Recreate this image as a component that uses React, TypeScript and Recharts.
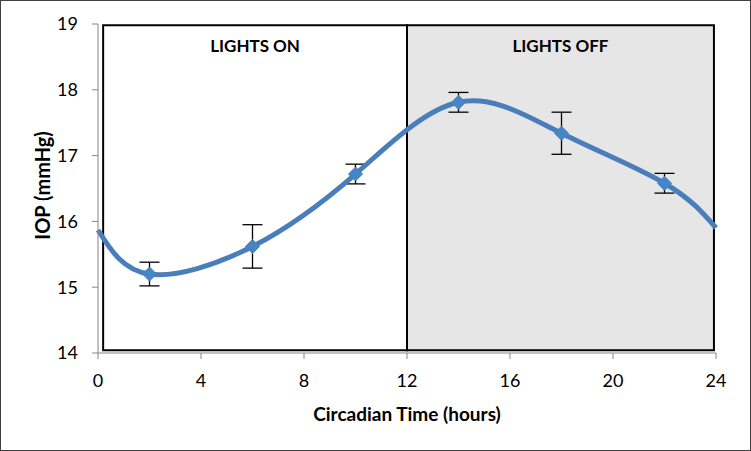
import { LineChart, Line, XAxis, YAxis, ReferenceArea, ErrorBar } from "recharts";

const hours = [0, 2, 6, 10, 14, 18, 22, 24];
const iop = [15.87, 15.2, 15.62, 16.72, 17.81, 17.34, 16.58, 15.9];
const sem = [null, 0.18, 0.33, 0.15, 0.15, 0.32, 0.15, null];
const xTicks = [0, 4, 8, 12, 16, 20, 24];
const yTicks = [14, 15, 16, 17, 18, 19];
const lightsOn = [0.2, 12];
const lightsOff = [12, 23.92];
const frameY = [14.04, 18.98];

const data = hours.map((h, i) => ({ hour: h, iop: iop[i], err: sem[i] }));

const FONT = "Lato, 'Open Sans', sans-serif";

function Diamond(props: any) {
  const { cx, cy, payload, index } = props;
  if (payload == null || payload.err == null) return <g key={`d${index}`} />;
  const r = 7;
  return (
    <polygon
      key={`d${index}`}
      points={`${cx},${cy - r} ${cx + r},${cy} ${cx},${cy + r} ${cx - r},${cy}`}
      fill="#4586c8"
      stroke="#4a7ebb"
      strokeWidth={1}
    />
  );
}

export default function App() {
  return (
    <div
      style={{
        position: "absolute",
        left: 0,
        top: 0,
        width: 751,
        height: 451,
        boxSizing: "border-box",
        border: "1px solid #404040",
        background: "#fff",
      }}
    >
      <div style={{ position: "absolute", left: -1, top: -1 }}>
        <LineChart width={751} height={451} data={data} margin={{ top: 24, right: 35, bottom: 0, left: 0 }}>
          <ReferenceArea
            x1={lightsOn[0]}
            x2={lightsOn[1]}
            y1={frameY[0]}
            y2={frameY[1]}
            fill="#ffffff"
            fillOpacity={1}
            stroke="#000"
            strokeWidth={2}
            label={{ value: "LIGHTS ON", position: "insideTop", offset: 15, fill: "#000", fontSize: 17, fontWeight: 700, fontFamily: FONT }}
          />
          <ReferenceArea
            x1={lightsOff[0]}
            x2={lightsOff[1]}
            y1={frameY[0]}
            y2={frameY[1]}
            fill="#e6e6e6"
            fillOpacity={1}
            stroke="#000"
            strokeWidth={2}
            label={{ value: "LIGHTS OFF", position: "insideTop", offset: 15, fill: "#000", fontSize: 17, fontWeight: 700, fontFamily: FONT }}
          />
          <XAxis
            dataKey="hour"
            type="number"
            domain={[0, 24]}
            ticks={xTicks}
            height={98}
            stroke="#868686"
            tickSize={6}
            tick={{ fontSize: 18, fill: "#000", fontFamily: FONT }}
            tickMargin={15}
            label={{ value: "Circadian Time (hours)", position: "insideBottom", offset: 30, fill: "#000", fontSize: 19, fontWeight: 700, fontFamily: FONT }}
          />
          <YAxis
            type="number"
            domain={[14, 19]}
            ticks={yTicks}
            width={98}
            stroke="#868686"
            tickSize={6}
            tick={{ fontSize: 18, fill: "#000", fontFamily: FONT }}
            tickMargin={14}
            label={{ value: "IOP (mmHg)", angle: -90, position: "center", dx: -6, dy: -3, fill: "#000", fontSize: 20, fontWeight: 700, fontFamily: FONT }}
          />
          <Line
            type="natural"
            dataKey="iop"
            stroke="#4a7ebb"
            strokeWidth={5}
            dot={Diamond}
            activeDot={false}
            isAnimationActive={false}
          >
            <ErrorBar dataKey="err" direction="y" width={10} stroke="#000" strokeWidth={1.3} />
          </Line>
        </LineChart>
      </div>
    </div>
  );
}
